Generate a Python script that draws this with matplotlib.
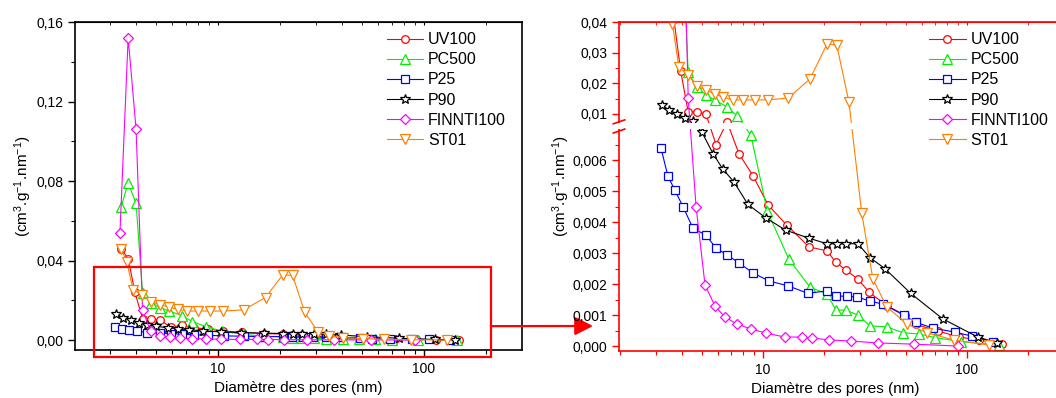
import numpy as np
import matplotlib
matplotlib.use('Agg')
import matplotlib.pyplot as plt
from matplotlib.patches import Rectangle
from matplotlib.ticker import NullFormatter

plt.rcParams['font.family'] = ['Liberation Sans', 'DejaVu Sans']
plt.rcParams['mathtext.fontset'] = 'custom'
plt.rcParams['mathtext.rm'] = 'Liberation Sans'
plt.rcParams['mathtext.default'] = 'regular'

# Données (diamètre en nm, volume en cm3.g-1.nm-1)
uv100_d = [3.38, 3.66, 3.95, 4.3, 4.74, 5.25, 5.89, 6.67, 7.63, 8.93, 10.6, 13.1, 16.8,
           20.6, 22.8, 25.5, 29.2, 33.1, 40.5, 49.7, 56, 72, 91, 114, 148]
uv100_v = [0.046, 0.041, 0.024, 0.0107, 0.0107, 0.0100, 0.0065, 0.0074, 0.0062, 0.0055,
           0.00455, 0.0039, 0.0032, 0.00307, 0.0027, 0.00245, 0.00216, 0.00174, 0.0013,
           0.0010, 0.0007, 0.00049, 0.00029, 0.0002, 0.00006]

pc500_d = [3.38, 3.66, 4.0, 4.3, 4.74, 5.25, 5.8, 6.67, 7.5, 8.73, 10.5, 13.4, 17,
           20.6, 22.8, 25.5, 29.2, 33.5, 40.5, 48.5, 58, 70, 94, 144]
pc500_v = [0.0668, 0.079, 0.0688, 0.0237, 0.0188, 0.0162, 0.0146, 0.0123, 0.0093, 0.0068,
           0.00435, 0.0028, 0.0019, 0.00168, 0.00116, 0.00116, 0.0010, 0.00065, 0.00062,
           0.00043, 0.00039, 0.00027, 0.00014, 0.00003]

p25_d = [3.16, 3.42, 3.7, 4.06, 4.54, 5.25, 5.89, 6.67, 7.63, 8.93, 10.7, 13.3, 16.6,
         20.6, 22.8, 25.8, 29, 33.5, 38.8, 49, 56, 68, 87, 106, 134]
p25_v = [0.0064, 0.00548, 0.00503, 0.00449, 0.0038, 0.00358, 0.00316, 0.00294, 0.00268,
         0.00236, 0.0021, 0.00194, 0.0017, 0.00178, 0.00161, 0.00161, 0.00158, 0.00145,
         0.00135, 0.0010, 0.00077, 0.00058, 0.00045, 0.00032, 0.00013]

p90_d = [3.2, 3.46, 3.79, 4.15, 4.54, 5.02, 5.7, 6.37, 7.2, 8.44, 10.3, 12.9, 16.8,
         20.6, 23, 25.5, 29.2, 33.5, 39.6, 53, 76, 113, 141]
p90_v = [0.0129, 0.0113, 0.0100, 0.0087, 0.0077, 0.0069, 0.0062, 0.0057, 0.0053, 0.00457,
         0.00414, 0.00374, 0.00348, 0.0033, 0.0033, 0.0033, 0.0033, 0.00285, 0.0025,
         0.0017, 0.00088, 0.00029, 0.0001]

finnti_d = [3.34, 3.66, 4.0, 4.3, 4.7, 5.2, 5.82, 6.5, 7.46, 8.73, 10.3, 12.8, 15.5,
            17.4, 21, 27, 36.6, 55, 90]
finnti_v = [0.054, 0.152, 0.106, 0.0152, 0.0045, 0.00197, 0.00129, 0.00094, 0.00071,
            0.00055, 0.00042, 0.00029, 0.00029, 0.00026, 0.0002, 0.00016, 0.0001,
            0.00006, 0.0]

st01_d = [3.38, 3.6, 3.87, 4.29, 4.74, 5.25, 5.8, 6.37, 7.1, 7.98, 9.1, 10.6, 13.3,
          17, 20.6, 23, 26.4, 30.5, 34.6, 40.5, 50.8, 64, 86, 129]
st01_v = [0.046, 0.0395, 0.0253, 0.0227, 0.0191, 0.0178, 0.0165, 0.0155, 0.0146, 0.0146,
          0.0146, 0.0146, 0.0152, 0.0214, 0.0328, 0.0325, 0.0139, 0.00429, 0.00216,
          0.00126, 0.00071, 0.00042, 0.0002, 0.00003]

series = [
    ('UV100', uv100_d, uv100_v, 'o', 5.5, '#FF0000'),
    ('PC500', pc500_d, pc500_v, '^', 6.5, '#00EE00'),
    ('P25', p25_d, p25_v, 's', 5.8, '#0000FF'),
    ('P90', p90_d, p90_v, '*', 7.0, '#000000'),
    ('FINNTI100', finnti_d, finnti_v, 'D', 5.0, '#FF00FF'),
    ('ST01', st01_d, st01_v, 'v', 6.5, '#FF8000'),
]

ylabel = r'(cm$^{3}$.g$^{-1}$.nm$^{-1}$)'
xlabel = 'Diamètre des pores (nm)'

# échelle avec coupure pour le panneau de droite
BRK = 0.007
GAP = 0.00019
R = 0.0989


def fwd(y):
    y = np.asarray(y, float)
    return np.where(y <= BRK, y, BRK + GAP + (y - BRK) * R)


def inv(t):
    t = np.asarray(t, float)
    return np.where(t <= BRK, t,
                    np.where(t < BRK + GAP, BRK, BRK + (t - BRK - GAP) / R))


fig = plt.figure(figsize=(10.56, 3.98), dpi=100)
ax1 = fig.add_axes([0.0710, 0.1206, 0.4233, 0.8241])
ax2 = fig.add_axes([0.5862, 0.1181, 0.4176, 0.8266])


def draw(ax, leg_x):
    for name, d, v, m, ms, c in series:
        ax.plot(d, v, marker=m, ms=ms, color=c, lw=0.8, mfc='white', mec=c,
                mew=0.9, label=name)
    ax.set_xscale('log')
    ax.set_xticks([10, 100], ['10', '100'])
    ax.xaxis.set_minor_formatter(NullFormatter())
    ax.tick_params(which='both', direction='out', labelsize=10, top=False, right=False)
    ax.tick_params(which='major', length=5, width=1)
    ax.tick_params(which='minor', length=3, width=0.8)
    ax.set_xlabel(xlabel, fontsize=11)
    ax.set_ylabel(ylabel, fontsize=11)
    ax.legend(loc='upper left', frameon=False, fontsize=11.5, numpoints=1,
              handlelength=2.3, handletextpad=0.3, labelspacing=0.32,
              borderpad=0, borderaxespad=0, bbox_to_anchor=(leg_x, 0.969))
    sec = ax.secondary_xaxis('top')
    sec.tick_params(which='both', direction='in', labeltop=False, length=2)
    sec.set_xticks([10, 100], ['', ''])
    sec.xaxis.set_minor_formatter(NullFormatter())
    return sec


# panneau de gauche
draw(ax1, 0.697)
ax1.set_xlim(2.02, 299)
ax1.set_ylim(-0.005, 0.16)
ax1.set_yticks([0, 0.04, 0.08, 0.12, 0.16], ['0,00', '0,04', '0,08', '0,12', '0,16'])
ax1.set_yticks([0.02, 0.06, 0.10, 0.14], minor=True)
for s in ax1.spines.values():
    s.set_linewidth(1.2)
ax1.yaxis.set_label_coords(-0.091, 0.5)
ax1.xaxis.set_label_coords(0.5, -0.095)

# zone agrandie
ax1.add_patch(Rectangle((2.5, -0.0085), 211 - 2.5, 0.0367 + 0.0085, fill=False,
                        ec='red', lw=1.6, clip_on=False, zorder=5))

# panneau de droite
sec2 = draw(ax2, 0.703)
ax2.set_yscale('function', functions=(fwd, inv))
ax2.set_xlim(1.97, 286)
ax2.set_ylim(-0.00016, 0.04)
ax2.set_yticks([0, 0.001, 0.002, 0.003, 0.004, 0.005, 0.006, 0.01, 0.02, 0.03, 0.04],
               ['0,000', '0,001', '0,002', '0,003', '0,004', '0,005', '0,006',
                '0,01', '0,02', '0,03', '0,04'])
ax2.set_yticks([0.0005, 0.0015, 0.0025, 0.0035, 0.0045, 0.0055, 0.0065,
                0.015, 0.025, 0.035], minor=True)
ax2.yaxis.set_minor_formatter(NullFormatter())
ax2.tick_params(which='both', color='red', labelcolor='black')
sec2.tick_params(which='both', color='red')
sec2.spines['top'].set_color('red')
for s in ax2.spines.values():
    s.set_color('red')
    s.set_linewidth(1.2)
ax2.yaxis.set_label_coords(-0.107, 0.5)
ax2.xaxis.set_label_coords(0.49, -0.095)

# coupure de l'axe
lo = fwd(-0.00016)
span = fwd(0.04) - lo
g0 = (BRK - lo) / span
gh = GAP / span
ax2.add_patch(Rectangle((-0.02, g0), 1.05, gh, transform=ax2.transAxes, fc='white',
                        ec='none', clip_on=False, zorder=3))
for yy in (g0 - 0.006, g0 + gh + 0.004):
    ax2.plot([-0.013, 0.013], [yy - 0.006, yy + 0.006], transform=ax2.transAxes,
             color='red', lw=1.2, clip_on=False, zorder=4)

# flèche
ax1.annotate('', xy=(-0.059, 0.076), xycoords=ax2.transAxes, xytext=(211, 0.007),
             textcoords='data', annotation_clip=False,
             arrowprops=dict(arrowstyle='-|>,head_length=0.55,head_width=0.28',
                             mutation_scale=20, color='red', lw=1.6,
                             shrinkA=0, shrinkB=0))

fig.savefig('out.png', dpi=100)
